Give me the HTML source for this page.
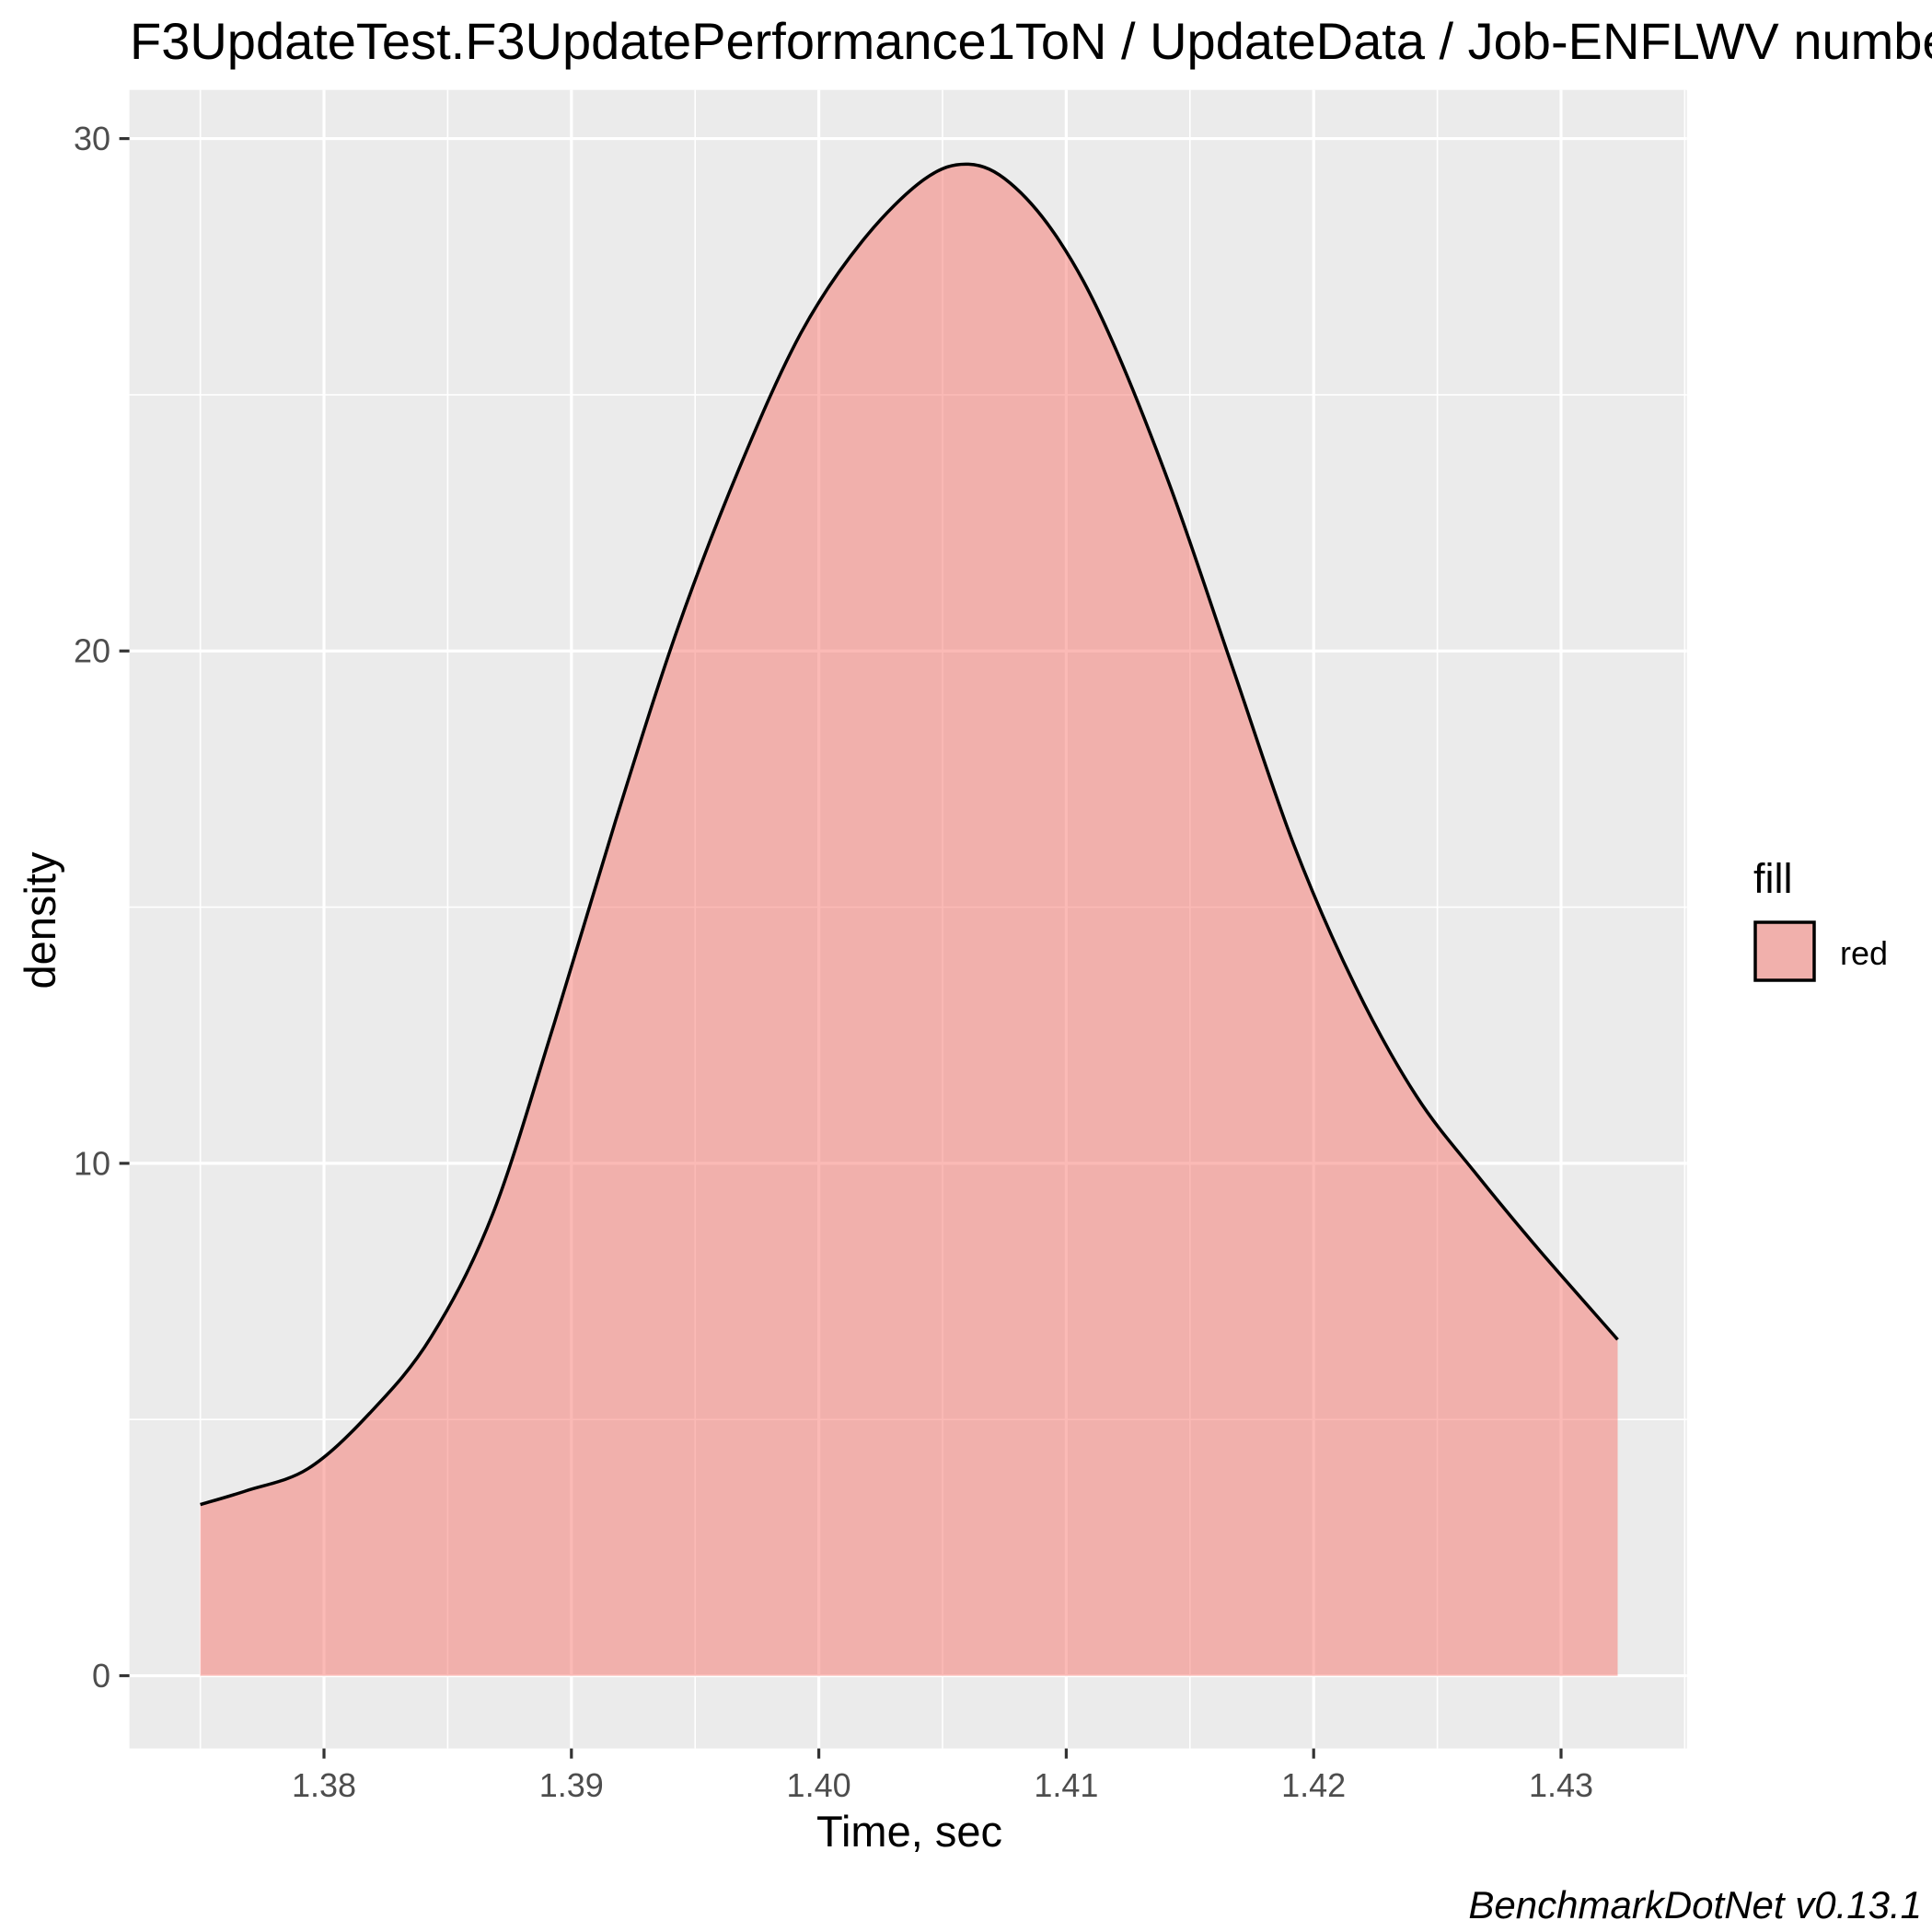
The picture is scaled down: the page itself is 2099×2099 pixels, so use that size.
<!DOCTYPE html>
<html><head><meta charset="utf-8"><style>
html,body{margin:0;padding:0;background:#fff;overflow:hidden;}
svg{display:block;font-family:"Liberation Sans",Arial,sans-serif;}
</style></head><body>
<svg id="chart" width="2099" height="2099" viewBox="0 0 2099 2099" xmlns="http://www.w3.org/2000/svg">
<rect x="0" y="0" width="2099" height="2099" fill="#fff"/>
<text x="141" y="64" font-size="56" fill="#000">F3UpdateTest.F3UpdatePerformance1ToN / UpdateData / Job-ENFLWV number</text>
<rect x="140.6" y="97.7" width="1692.1" height="1801.9" fill="#EBEBEB"/>
<g id="grid"></g>
<g id="marks"></g>
<g id="axes"></g>
<text x="988" y="2006" font-size="47" text-anchor="middle" fill="#000">Time, sec</text>
<text transform="translate(60,1000) rotate(-90)" font-size="47" text-anchor="middle" fill="#000">density</text>
<g>
<text x="1905" y="970" font-size="45" fill="#000">fill</text>
<rect x="1907" y="1002" width="64" height="63" fill="#F1B0AC" stroke="#000" stroke-width="3.5"/>
<text x="1999" y="1048" font-size="36" fill="#000">red</text>
</g>
<text x="2088" y="2084" font-size="42" font-style="italic" text-anchor="end" fill="#000">BenchmarkDotNet v0.13.1</text>
</svg>
<script>
const times = [1.37500,1.37686,1.37935,1.38184,1.38433,1.38682,1.38931,1.39180,1.39429,1.39678,1.39927,1.40176,1.40425,1.40605,1.40774,1.40973,1.41172,1.41421,1.41670,1.41919,1.42168,1.42417,1.42666,1.42915,1.43229];
const density = [3.34,3.61,4.04,5.12,6.61,9.01,12.74,16.71,20.43,23.56,26.2,28.0,29.2,29.5,29.13,28.0,26.2,23.2,19.71,16.23,13.46,11.3,9.74,8.29,6.56];
const xTicks = [1.38,1.39,1.40,1.41,1.42,1.43];
const xTickLabels = ["1.38","1.39","1.40","1.41","1.42","1.43"];
const yTicks = [0,10,20,30];
const yTickLabels = ["0","10","20","30"];
const xMinor = [1.375,1.385,1.395,1.405,1.415,1.425,1.435];
const yMinor = [5,15,25];
</script>
<script>
const NS="http://www.w3.org/2000/svg";
const X0=1.372135, X1=1.435086, PL=140.6, PR=1832.7;
const Y0=-1.42, Y1=30.95, PB=1899.6, PT=97.7;
function sx(v){return PL+(v-X0)/(X1-X0)*(PR-PL);}
function sy(v){return PB-(v-Y0)/(Y1-Y0)*(PB-PT);}
function mk(tag,attrs,parent){const e=document.createElementNS(NS,tag);for(const k in attrs)e.setAttribute(k,attrs[k]);parent.appendChild(e);return e;}
const grid=document.getElementById('grid');
xMinor.forEach(v=>{const l=mk('line',{x1:sx(v),x2:sx(v),y1:PT,y2:PB,stroke:'#fff','stroke-width':1.6},grid);

});
yMinor.forEach(v=>{const l=mk('line',{x1:PL,x2:PR,y1:sy(v),y2:sy(v),stroke:'#fff','stroke-width':1.6},grid);

});
xTicks.forEach(v=>{const l=mk('line',{x1:sx(v),x2:sx(v),y1:PT,y2:PB,stroke:'#fff','stroke-width':3.2},grid);

});
yTicks.forEach(v=>{const l=mk('line',{x1:PL,x2:PR,y1:sy(v),y2:sy(v),stroke:'#fff','stroke-width':3.2},grid);

});
const P=times.map((t,i)=>[sx(t),sy(density[i])]);
function spline(p){let d='';for(let i=0;i<p.length-1;i++){const p0=p[Math.max(i-1,0)],p1=p[i],p2=p[i+1],p3=p[Math.min(i+2,p.length-1)];
const c1=[p1[0]+(p2[0]-p0[0])/6,p1[1]+(p2[1]-p0[1])/6],c2=[p2[0]-(p3[0]-p1[0])/6,p2[1]-(p3[1]-p1[1])/6];
d+=' C'+c1[0].toFixed(1)+','+c1[1].toFixed(1)+' '+c2[0].toFixed(1)+','+c2[1].toFixed(1)+' '+p2[0].toFixed(1)+','+p2[1].toFixed(1);}return d;}
const curve=spline(P);
const marks=document.getElementById('marks');
const area='M'+P[0][0].toFixed(1)+','+sy(0).toFixed(1)+' L'+P[0][0].toFixed(1)+','+P[0][1].toFixed(1)+curve+' L'+P[P.length-1][0].toFixed(1)+','+sy(0).toFixed(1)+' Z';
const a=mk('path',{d:area,fill:'#F8766D','fill-opacity':0.5,stroke:'none'},marks);


const ln=mk('path',{d:'M'+P[0][0].toFixed(1)+','+P[0][1].toFixed(1)+curve,fill:'none',stroke:'#000','stroke-width':3.5,'stroke-linejoin':'round'},marks);


const axes=document.getElementById('axes');
xTicks.forEach((v,i)=>{const t=mk('line',{x1:sx(v),x2:sx(v),y1:PB,y2:PB+11,stroke:'#333','stroke-width':3.2},axes);


const tx=mk('text',{x:sx(v),y:1952,'font-size':36,'text-anchor':'middle',fill:'#4D4D4D'},axes);tx.textContent=xTickLabels[i];

});
yTicks.forEach((v,i)=>{const t=mk('line',{x1:PL-11,x2:PL,y1:sy(v),y2:sy(v),stroke:'#333','stroke-width':3.2},axes);


const tx=mk('text',{x:120,y:sy(v)+12.5,'font-size':36,'text-anchor':'end',fill:'#4D4D4D'},axes);tx.textContent=yTickLabels[i];

});
</script>
</body></html>
